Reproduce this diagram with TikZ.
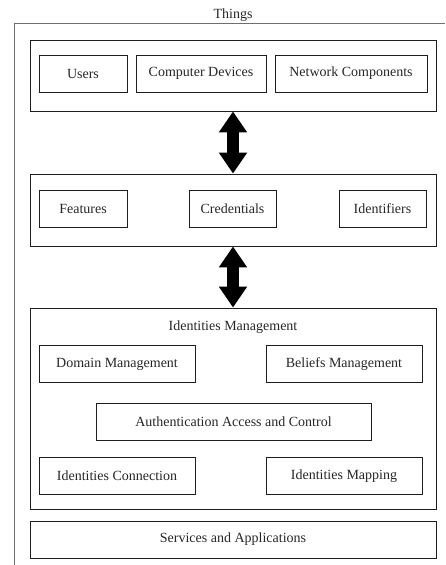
\documentclass[tikz,border=0pt]{standalone}
\usepackage{fontspec}
\setmainfont{Liberation Serif}
\usetikzlibrary{arrows.meta}
\definecolor{frameline}{HTML}{6E6E6E}
\definecolor{boxline}{HTML}{1E1E1E}
\tikzset{
  box/.style={draw=boxline, line width=0.9pt, inner sep=0pt, minimum height=37pt,
              font=\fontsize{14}{16}\selectfont, text=black!85},
  group/.style={draw=boxline, line width=0.9pt, inner sep=0pt, minimum width=406pt},
  label/.style={inner sep=0pt, font=\fontsize{14}{16}\selectfont, text=black!85},
  bigarrow/.style={line width=12pt, line cap=butt,
    {Triangle[width=27pt,length=21pt]}-{Triangle[width=27pt,length=21pt]}}
}
\begin{document}
\begin{tikzpicture}[x=1pt,y=-1pt]
\useasboundingbox (0,0) rectangle (445,565);
% outer frame of "Things", open to the right and bottom
\draw[frameline, line width=1pt] (14.5,565) -- (14.5,23) -- (445,23);
\node[label] (things) at (233,15) {Things};

% things layer
\node[group, minimum height=71pt] (g1) at (233,75.5) {};
\node[box, minimum width=88pt]  (users) at (83,73.5)  {Users};
\node[box, minimum width=130pt] (devs)  at (201,73.5) {Computer Devices};
\node[box, minimum width=152pt] (net)   at (351,73.5) {Network Components};

% identity attributes layer
\node[group, minimum height=72pt] (g2) at (233,210) {};
\node[box, minimum width=88pt] (feat)  at (83,209)    {Features};
\node[box, minimum width=87pt] (cred)  at (232.5,209) {Credentials};
\node[box, minimum width=87pt] (ident) at (382.5,209) {Identifiers};

% identities management layer
\node[group, minimum height=201pt] (g3) at (233,408.5) {};
\node[label] (imtitle) at (233,327) {Identities Management};
\node[box, minimum width=156pt] (domain)  at (117,364)   {Domain Management};
\node[box, minimum width=156pt] (beliefs) at (344,364)   {Beliefs Management};
\node[box, minimum width=275pt] (auth)    at (233.5,422) {Authentication Access and Control};
\node[box, minimum width=156pt] (iconn)   at (117,476)   {Identities Connection};
\node[box, minimum width=156pt] (imap)    at (344,476)   {Identities Mapping};

% services layer
\node[group, minimum height=37pt, font=\fontsize{14}{16}\selectfont, text=black!85]
  (svc) at (233,539.5) {Services and Applications};

% links between layers
\draw[bigarrow] (g1.south) -- (g2.north);
\draw[bigarrow] (g2.south) -- (g3.north);
\end{tikzpicture}
\end{document}
